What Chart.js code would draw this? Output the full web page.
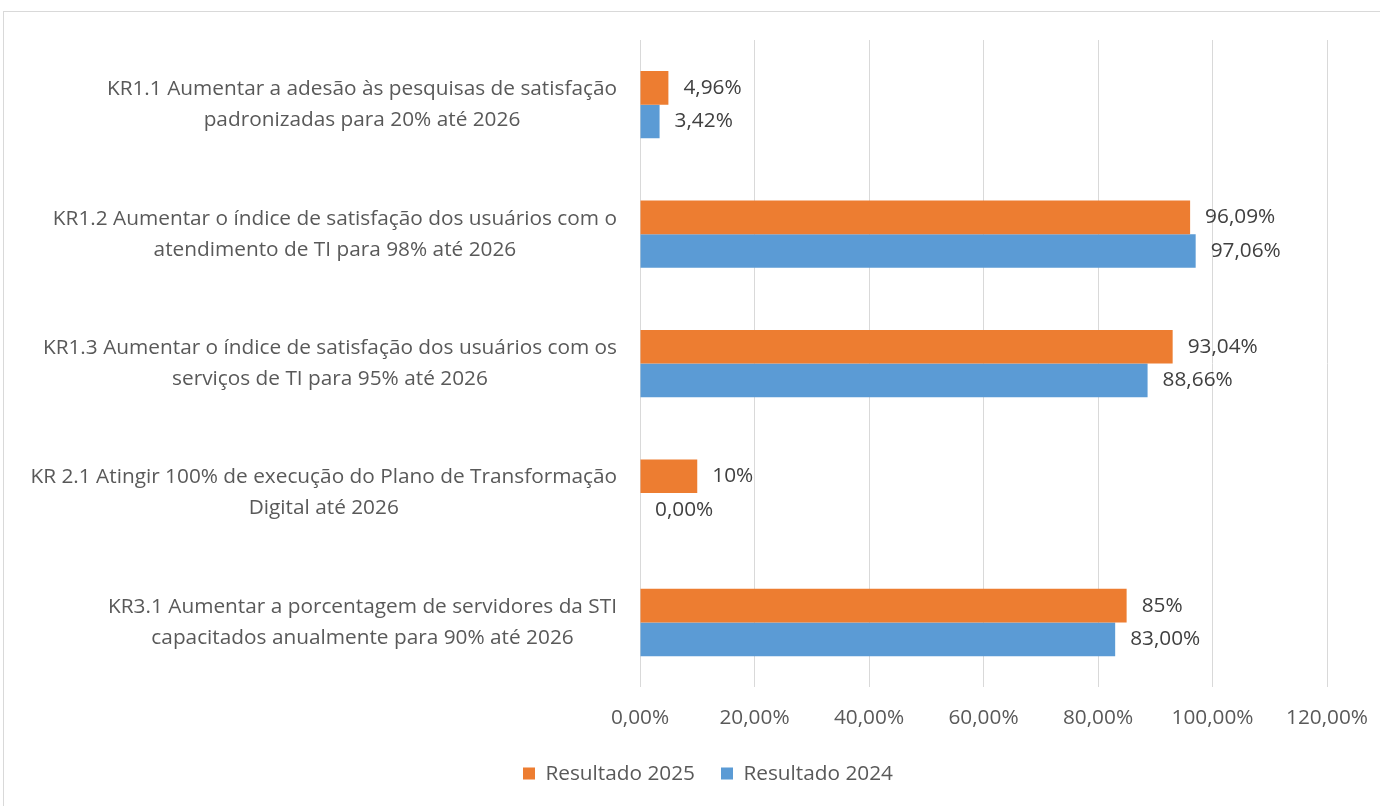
<!DOCTYPE html>
<html>
<head>
<meta charset="utf-8">
<script src="https://cdn.jsdelivr.net/npm/chart.js@4.4.1/dist/chart.umd.min.js"></script>
<style>
  html, body { margin: 0; padding: 0; background: #fff; }
  #wrap { width: 1380px; height: 806px; }
</style>
</head>
<body>
<div id="wrap"><canvas id="grafico" width="1380" height="806"></canvas></div>
<script>
// categorias (duas linhas cada)
var categorias = [
    ['KR1.1 Aumentar a adesão às pesquisas de satisfação', 'padronizadas para 20% até 2026'],
    ['KR1.2 Aumentar o índice de satisfação dos usuários com o', 'atendimento de TI para 98% até 2026'],
    ['KR1.3 Aumentar o índice de satisfação dos usuários com os', 'serviços de TI para 95% até 2026'],
    ['KR 2.1 Atingir 100% de execução do Plano de Transformação', 'Digital até 2026'],
    ['KR3.1 Aumentar a porcentagem de servidores da STI', 'capacitados anualmente para 90% até 2026']
];
var resultado2025 = [4.96, 96.09, 93.04, 10, 85];
var resultado2024 = [3.42, 97.06, 88.66, 0, 83];
var rotulos2025 = ['4,96%', '96,09%', '93,04%', '10%', '85%'];
var rotulos2024 = ['3,42%', '97,06%', '88,66%', '0,00%', '83,00%'];
var ticksX = [0, 20, 40, 60, 80, 100, 120];

var FONTE = '"Open Sans", sans-serif';
var TAM = 20.8;
var COR_TEXTO = '#595959';
var PAD_ESQ = 89;

// borda cinza em volta do gráfico
var bordaPlugin = {
    id: 'borda',
    beforeDraw: function (chart) {
        var ctx = chart.ctx;
        ctx.save();
        ctx.strokeStyle = '#d9d9d9';
        ctx.lineWidth = 1;
        ctx.strokeRect(3.5, 11.5, 1400, 900);
        ctx.restore();
    }
};

// rótulos do eixo Y centrados por linha, alinhados à direita como bloco
var rotulosYPlugin = {
    id: 'rotulosY',
    afterDraw: function (chart) {
        var ctx = chart.ctx;
        var escala = chart.scales.y;
        var direita = chart.chartArea.left - 23;
        ctx.save();
        ctx.font = TAM + 'px ' + FONTE;
        ctx.fillStyle = COR_TEXTO;
        ctx.textAlign = 'center';
        ctx.textBaseline = 'middle';
        categorias.forEach(function (linhas, i) {
            var y = escala.getPixelForValue(i);
            var largura = 0;
            linhas.forEach(function (l) { largura = Math.max(largura, ctx.measureText(l).width); });
            var cx = direita - largura / 2;
            var alt = 31;
            var y0 = y - (linhas.length - 1) * alt / 2;
            linhas.forEach(function (l, k) {
                ctx.fillText(l, cx, y0 + k * alt);
            });
        });
        ctx.restore();
    }
};

// valores no fim de cada barra
var valoresPlugin = {
    id: 'valores',
    afterDatasetsDraw: function (chart) {
        var ctx = chart.ctx;
        var rotulos = [rotulos2025, rotulos2024];
        ctx.save();
        ctx.font = TAM + 'px ' + FONTE;
        ctx.fillStyle = '#404040';
        ctx.textAlign = 'left';
        ctx.textBaseline = 'middle';
        chart.data.datasets.forEach(function (ds, d) {
            var meta = chart.getDatasetMeta(d);
            meta.data.forEach(function (barra, i) {
                ctx.fillText(rotulos[d][i], barra.x + 15, barra.y);
            });
        });
        ctx.restore();
    }
};

var ctx = document.getElementById('grafico').getContext('2d');
var MeuGrafico = new Chart(ctx, {
    type: 'bar',
    data: {
        labels: categorias,
        datasets: [{
            label: 'Resultado 2025',
            data: resultado2025,
            backgroundColor: '#ED7D31',
            barPercentage: 1,
            categoryPercentage: 0.52
        }, {
            label: 'Resultado 2024',
            data: resultado2024,
            backgroundColor: '#5B9BD5',
            barPercentage: 1,
            categoryPercentage: 0.52
        }]
    },
    options: {
        indexAxis: 'y',
        responsive: false,
        animation: false,
        layout: {
            padding: { left: PAD_ESQ, right: 53, top: 40, bottom: 12 }
        },
        scales: {
            x: {
                min: 0,
                max: 120,
                afterBuildTicks: function (escala) {
                    escala.ticks = ticksX.map(function (v) { return { value: v }; });
                },
                grid: { color: '#d9d9d9', lineWidth: 1, drawTicks: false },
                border: { display: false },
                ticks: {
                    color: COR_TEXTO,
                    font: { family: FONTE, size: TAM },
                    padding: 18,
                    callback: function (v) { return v.toFixed(2).replace('.', ',') + '%'; }
                },
                afterFit: function (escala) {
                    escala.height = 50;
                    escala.paddingRight = 0;
                    escala.paddingLeft = 0;
                }
            },
            y: {
                grid: { display: false },
                border: { display: false },
                ticks: { display: false },
                afterFit: function (escala) { escala.width = 640 - PAD_ESQ; }
            }
        },
        plugins: {
            legend: {
                position: 'bottom',
                labels: {
                    color: COR_TEXTO,
                    font: { family: FONTE, size: TAM },
                    boxWidth: 12,
                    boxHeight: 12,
                    padding: 26
                }
            },
            tooltip: { enabled: false }
        }
    },
    plugins: [bordaPlugin, rotulosYPlugin, valoresPlugin]
});
</script>
</body>
</html>
